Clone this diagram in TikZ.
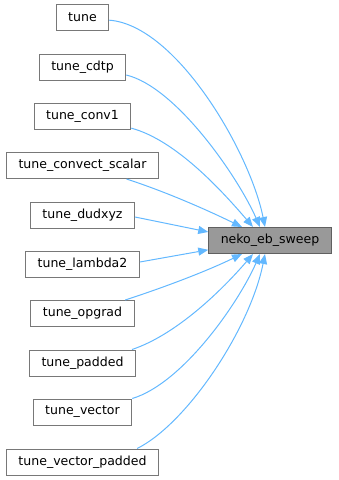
\documentclass[tikz,border=0pt]{standalone}
\usepackage{fontspec}
\setmainfont{DejaVu Sans}
\usetikzlibrary{arrows.meta}

\definecolor{callblue}{RGB}{99, 184, 255}
\definecolor{boxline}{RGB}{120, 120, 120}
\definecolor{mainfill}{RGB}{153, 153, 153}

\tikzset{
    fnbox/.style = {
        draw          = boxline,
        line width    = 0.75pt,
        fill          = white,
        font          = \fontsize{9.4}{11}\selectfont,
        inner xsep    = 9pt,
        inner ysep    = 0pt,
        minimum height = 19.5pt
    },
    mainbox/.style = {fnbox, draw = boxline!80!black, fill = mainfill},
    callarrow/.style = {
        draw          = callblue,
        line width    = 0.75pt,
        -{Triangle[length=7.5pt, width=6pt]}
    }
}

\begin{document}
\begin{tikzpicture}[x=0.75pt, y=-0.75pt]
    \useasboundingbox (0,0) rectangle (339,480);

    \node[mainbox] (sweep) at (270,240.5) {neko\_eb\_sweep};

    \node[fnbox] (tune)     at (82.5,17.5)  {tune};
    \node[fnbox] (cdtp)     at (82.5,67)    {tune\_cdtp};
    \node[fnbox] (conv)     at (82.5,116)   {tune\_conv1};
    \node[fnbox] (convect)  at (82.5,165.5) {tune\_convect\_scalar};
    \node[fnbox] (dudxyz)   at (82.5,215)   {tune\_dudxyz};
    \node[fnbox] (lambda)   at (82.5,264)   {tune\_lambda2};
    \node[fnbox] (opgrad)   at (82.5,313.5) {tune\_opgrad};
    \node[fnbox] (padded)   at (82.5,363)   {tune\_padded};
    \node[fnbox] (vector)   at (82.5,412)   {tune\_vector};
    \node[fnbox] (vecpad)   at (82.5,462)   {tune\_vector\_padded};

    \draw[callarrow] ([yshift=-2pt]tune.east)
        .. controls +(67,5) and +(-15,-75) .. ([xshift=-3.75pt]sweep.north);
    \draw[callarrow] ([yshift=-6pt]cdtp.east)
        .. controls +(50,12) and +(-22,-50) .. ([xshift=-7.5pt]sweep.north);
    \draw[callarrow] ([yshift=1pt]conv.south east)
        .. controls +(45,12) and +(-30,-35) .. ([xshift=-12.75pt]sweep.north);
    \draw[callarrow] ([xshift=33pt]convect.south)
        .. controls +(40,13) and +(-35,-17) .. ([xshift=-21pt]sweep.north);
    \draw[callarrow] ([yshift=-1.5pt]dudxyz.east) -- ([yshift=6.4pt]sweep.west);
    \draw[callarrow] ([yshift=1.5pt]lambda.east) -- ([yshift=-7pt]sweep.west);
    \draw[callarrow] ([xshift=32pt]opgrad.north)
        .. controls +(40,-13) and +(-35,17) .. ([xshift=-21pt]sweep.south);
    \draw[callarrow] ([xshift=-3pt]padded.north east)
        .. controls +(45,-15) and +(-30,35) .. ([xshift=-12.75pt]sweep.south);
    \draw[callarrow] (vector.north east)
        .. controls +(50,-15) and +(-22,50) .. ([xshift=-7.5pt]sweep.south);
    \draw[callarrow] ([xshift=41pt]vecpad.north)
        .. controls +(50,-25) and +(-15,75) .. ([xshift=-3.75pt]sweep.south);
\end{tikzpicture}
\end{document}
